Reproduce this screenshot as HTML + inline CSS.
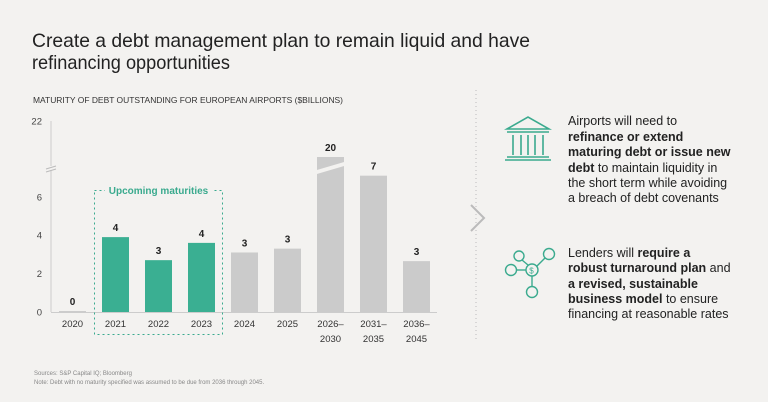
<!DOCTYPE html>
<html><head><meta charset="utf-8"><style>
body{margin:0;background:#f3f2f0;}
svg{display:block;font-family:"Liberation Sans",sans-serif;}
</style></head><body>
<svg id="c" width="768" height="402" viewBox="0 0 768 402" xmlns="http://www.w3.org/2000/svg">
<rect width="768" height="402" fill="#f3f2f0"/>
<text x="32" y="47" font-size="19.5" fill="#222" textLength="498" lengthAdjust="spacingAndGlyphs">Create a debt management plan to remain liquid and have</text>
<text x="32" y="69" font-size="19.5" fill="#222" textLength="198" lengthAdjust="spacingAndGlyphs">refinancing opportunities</text>
<text x="33" y="103" font-size="8.5" fill="#333" textLength="310" lengthAdjust="spacingAndGlyphs">MATURITY OF DEBT OUTSTANDING FOR EUROPEAN AIRPORTS ($BILLIONS)</text>
<g id="chart"></g>
<line x1="476" y1="90" x2="476" y2="342" stroke="#bbb" stroke-dasharray="1,3"/>
<polyline points="471,205 484,218 471,231" fill="none" stroke="#bbb" stroke-width="2"/>
<g fill="none" stroke="#3aaa8e" stroke-width="1.6">
<polygon points="507,129 528,117 549,129"/><line x1="507" y1="132" x2="549" y2="132"/>
<line x1="513" y1="135" x2="513" y2="155"/><line x1="521" y1="135" x2="521" y2="155"/><line x1="528" y1="135" x2="528" y2="155"/><line x1="535" y1="135" x2="535" y2="155"/><line x1="543" y1="135" x2="543" y2="155"/>
<line x1="507" y1="157" x2="549" y2="157"/><line x1="505" y1="160" x2="551" y2="160"/>
</g>
<g fill="none" stroke="#3aaa8e" stroke-width="1.4">
<circle cx="532" cy="270" r="6"/><circle cx="519" cy="256" r="5"/><circle cx="549" cy="254" r="5.5"/><circle cx="511" cy="270" r="5.5"/><circle cx="532" cy="292" r="5.5"/>
<line x1="522" y1="260" x2="528" y2="265"/><line x1="545" y1="258" x2="537" y2="266"/><line x1="516" y1="270" x2="526" y2="270"/><line x1="532" y1="276" x2="532" y2="287"/>
</g>
<text x="531.5" y="273.5" font-size="8" fill="#3aaa8e" text-anchor="middle">$</text>
<g font-size="12.5" fill="#222">
<text x="568" y="125">Airports will need to</text>
<text x="568" y="141" font-weight="bold">refinance or extend</text>
<text x="568" y="156" font-weight="bold">maturing debt or issue new</text>
<text x="568" y="172"><tspan font-weight="bold">debt</tspan> to maintain liquidity in</text>
<text x="568" y="187">the short term while avoiding</text>
<text x="568" y="202">a breach of debt covenants</text>
</g>
<g font-size="12.5" fill="#222">
<text x="568" y="257">Lenders will <tspan font-weight="bold">require a</tspan></text>
<text x="568" y="272"><tspan font-weight="bold">robust turnaround plan</tspan> and</text>
<text x="568" y="288" font-weight="bold">a revised, sustainable</text>
<text x="568" y="303"><tspan font-weight="bold">business model</tspan> to ensure</text>
<text x="568" y="318">financing at reasonable rates</text>
</g>
<text x="34" y="375" font-size="6" fill="#888">Sources: S&amp;P Capital IQ; Bloomberg</text>
<text x="34" y="384" font-size="6" fill="#888">Note: Debt with no maturity specified was assumed to be due from 2036 through 2045.</text>
</svg>
<script>
const categories = ["2020","2021","2022","2023","2024","2025","2026–2030","2031–2035","2036–2045"];
const values = [0.05,3.9,2.7,3.6,3.1,3.3,20,7.1,2.65];
const labels = ["0","4","3","4","3","3","20","7","3"];
const highlight = [false,true,true,true,false,false,false,false,false];
const yTicks = [0,2,4,6,22];

const NS = "http://www.w3.org/2000/svg";
const g = document.getElementById("chart");
const y0 = 312, pxPerUnit = 19.2;
function y(v){ return v <= 7.5 ? y0 - v*pxPerUnit : 157 - (v-20)*18; }
const xStart = 72.5, step = 43, bw = 27;
function x(i){ return xStart + i*step; }
function mk(tag, attrs){ const e=document.createElementNS(NS,tag); for(const k in attrs) e.setAttribute(k,attrs[k]); g.appendChild(e); return e; }

let ax = mk("line",{x1:51,y1:121,x2:51,y2:166,stroke:"#ccc"});


ax = mk("line",{x1:51,y1:170,x2:51,y2:312,stroke:"#ccc"});


ax = mk("path",{d:"M46,169 L56,166 M46,172 L56,169",stroke:"#bbb",fill:"none"});


ax = mk("line",{x1:51,y1:312.5,x2:437,y2:312.5,stroke:"#ccc"});



yTicks.forEach(t=>{
  const e = mk("text",{x:42,y:y(t)+3.5,"font-size":9.5,fill:"#444","text-anchor":"end"});
  e.textContent = t;
  
  
});

const box = mk("rect",{x:94.5,y:190.5,width:128,height:144,fill:"none",stroke:"#3aaa8e","stroke-dasharray":"2,3"});


const bg = mk("rect",{x:105,y:185,width:108,height:12,fill:"#f3f2f0"});


const bl = mk("text",{x:158.5,y:194,"font-size":10,fill:"#3aaa8e","font-weight":"bold","text-anchor":"middle"});
bl.textContent = "Upcoming maturities";



categories.forEach((c,i)=>{
  const top = y(values[i]);
  const r = mk("rect",{x:x(i)-bw/2,y:top,width:bw,height:y0-top,fill:highlight[i]?"#3aaf92":"#cbcbcb"});
  
  
  if(values[i] > 7.5){
    const br = mk("path",{d:`M${x(i)-17},171 L${x(i)+17},161 L${x(i)+17},165 L${x(i)-17},175 Z`,fill:"#f3f2f0"});
    
    
  }
  const vl = mk("text",{x:x(i),y:top-6,"font-size":10,"font-weight":"bold",fill:"#222","text-anchor":"middle"});
  vl.textContent = labels[i];
  
  
  const parts = c.split("–");
  parts.forEach((p,j)=>{
    const tl = mk("text",{x:x(i),y:327+j*15,"font-size":9.5,fill:"#333","text-anchor":"middle"});
    tl.textContent = p + (j===0 && parts.length>1 ? "–" : "");
    
    
  });
});
</script>
</body></html>
